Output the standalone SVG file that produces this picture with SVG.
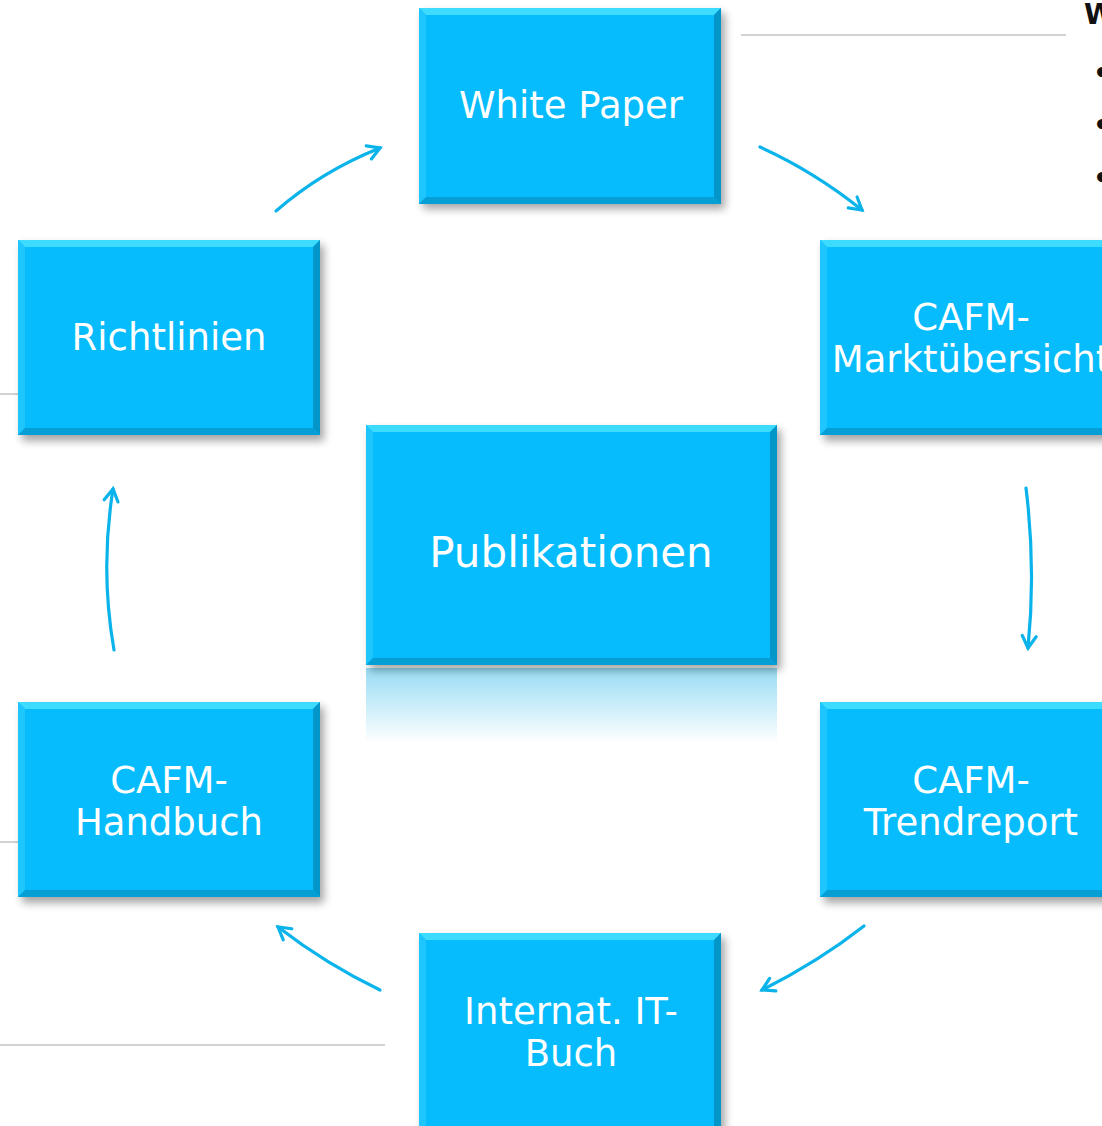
<svg xmlns="http://www.w3.org/2000/svg" width="1102" height="1126" viewBox="0 0 1102 1126">
<defs>
<style>
.lbl{font-family:"DejaVu Sans","Verdana",sans-serif;fill:#fff;text-anchor:middle;font-size:37px}
.big{font-size:42px}
.conn{fill:none;stroke:#0ab3ea;stroke-width:3.2;stroke-linecap:round}
.grey{stroke:#d2d2d2;stroke-width:2}
.face{fill:#06bcfc}
.top{fill:#3ddcff}
.left{fill:#1ec6fd}
.bot{fill:#059fd6}
.right{fill:#0596c9}
.side{font-family:"DejaVu Sans",sans-serif;font-size:28px;font-weight:bold;fill:#111}
</style>
<filter id="sh" x="-10%" y="-10%" width="130%" height="130%">
<feGaussianBlur stdDeviation="4"/>
</filter>
<marker id="ah" viewBox="0 0 20 20" refX="16" refY="10" markerWidth="20" markerHeight="20" markerUnits="userSpaceOnUse" orient="auto">
<path d="M4 3 L16 10 L4 17" fill="none" stroke="#0ab3ea" stroke-width="3.2" stroke-linecap="round" stroke-linejoin="miter"/>
</marker>
<linearGradient id="refl" x1="0" y1="0" x2="0" y2="1">
<stop offset="0" stop-color="#97dcf4"/>
<stop offset="1" stop-color="#ffffff"/>
</linearGradient>
</defs>
<rect width="1102" height="1126" fill="#fff"/>

<g id="background-lines">
<line class="grey" x1="741" y1="35" x2="1066" y2="35"/>
<line class="grey" x1="0" y1="394" x2="22" y2="394"/>
<line class="grey" x1="0" y1="842" x2="22" y2="842"/>
<line class="grey" x1="0" y1="1045" x2="385" y2="1045"/>
</g>

<g id="side-text">
<text class="side" x="1084" y="24">W</text>
<text class="side" x="1093" y="83">•</text>
<text class="side" x="1093" y="135">•</text>
<text class="side" x="1093" y="188">•</text>
</g>

<g id="connectors">
<path class="conn" marker-end="url(#ah)" d="M760 147 Q815 172 862 210"/>
<path class="conn" marker-end="url(#ah)" d="M1026 488 Q1036 568 1028 648"/>
<path class="conn" marker-end="url(#ah)" d="M864 926 Q818 962 762 990"/>
<path class="conn" marker-end="url(#ah)" d="M380 990 Q326 964 278 927"/>
<path class="conn" marker-end="url(#ah)" d="M114 650 Q100 570 113 489"/>
<path class="conn" marker-end="url(#ah)" d="M276 211 Q322 171 380 148"/>
</g>

<g id="node-publikationen">
<rect x="366" y="668" width="411" height="75" fill="url(#refl)"/>
<rect x="370" y="430" width="411" height="240" fill="#000" opacity="0.35" filter="url(#sh)"/>
<rect class="face" x="366" y="425" width="411" height="240"/>
<polygon class="top" points="366,425 777,425 770,432 373,432"/>
<polygon class="left" points="366,425 373,432 373,658 366,665"/>
<polygon class="bot" points="366,665 373,658 770,658 777,665"/>
<polygon class="right" points="777,425 777,665 770,658 770,432"/>
<text class="lbl big" x="571" y="567">Publikationen</text>
</g>

<g id="node-whitepaper">
<rect x="423" y="13" width="302" height="196" fill="#000" opacity="0.35" filter="url(#sh)"/>
<rect class="face" x="419" y="8" width="302" height="196"/>
<polygon class="top" points="419,8 721,8 714,15 426,15"/>
<polygon class="left" points="419,8 426,15 426,197 419,204"/>
<polygon class="bot" points="419,204 426,197 714,197 721,204"/>
<polygon class="right" points="721,8 721,204 714,197 714,15"/>
<text class="lbl" x="571" y="118">White Paper</text>
</g>

<g id="node-richtlinien">
<rect x="22" y="245" width="302" height="196" fill="#000" opacity="0.35" filter="url(#sh)"/>
<rect class="face" x="18" y="240" width="302" height="195"/>
<polygon class="top" points="18,240 320,240 313,247 25,247"/>
<polygon class="left" points="18,240 25,247 25,428 18,435"/>
<polygon class="bot" points="18,435 25,428 313,428 320,435"/>
<polygon class="right" points="320,240 320,435 313,428 313,247"/>
<text class="lbl" x="169" y="350">Richtlinien</text>
</g>

<g id="node-marktuebersicht">
<rect x="824" y="245" width="302" height="196" fill="#000" opacity="0.35" filter="url(#sh)"/>
<rect class="face" x="820" y="240" width="302" height="195"/>
<polygon class="top" points="820,240 1122,240 1115,247 827,247"/>
<polygon class="left" points="820,240 827,247 827,428 820,435"/>
<polygon class="bot" points="820,435 827,428 1115,428 1122,435"/>
<text class="lbl" x="971" y="330">CAFM-</text>
<text class="lbl" x="971" y="372">Marktübersicht</text>
</g>

<g id="node-handbuch">
<rect x="22" y="707" width="302" height="196" fill="#000" opacity="0.35" filter="url(#sh)"/>
<rect class="face" x="18" y="702" width="302" height="195"/>
<polygon class="top" points="18,702 320,702 313,709 25,709"/>
<polygon class="left" points="18,702 25,709 25,890 18,897"/>
<polygon class="bot" points="18,897 25,890 313,890 320,897"/>
<polygon class="right" points="320,702 320,897 313,890 313,709"/>
<text class="lbl" x="169" y="793">CAFM-</text>
<text class="lbl" x="169" y="835">Handbuch</text>
</g>

<g id="node-trendreport">
<rect x="824" y="707" width="302" height="196" fill="#000" opacity="0.35" filter="url(#sh)"/>
<rect class="face" x="820" y="702" width="302" height="195"/>
<polygon class="top" points="820,702 1122,702 1115,709 827,709"/>
<polygon class="left" points="820,702 827,709 827,890 820,897"/>
<polygon class="bot" points="820,897 827,890 1115,890 1122,897"/>
<text class="lbl" x="971" y="793">CAFM-</text>
<text class="lbl" x="971" y="835">Trendreport</text>
</g>

<g id="node-itbuch">
<rect x="423" y="938" width="302" height="196" fill="#000" opacity="0.35" filter="url(#sh)"/>
<rect class="face" x="419" y="933" width="302" height="196"/>
<polygon class="top" points="419,933 721,933 714,940 426,940"/>
<polygon class="left" points="419,933 426,940 426,1126 419,1126"/>
<polygon class="right" points="721,933 721,1126 714,1126 714,940"/>
<text class="lbl" x="571" y="1024">Internat. IT-</text>
<text class="lbl" x="571" y="1066">Buch</text>
</g>
</svg>
